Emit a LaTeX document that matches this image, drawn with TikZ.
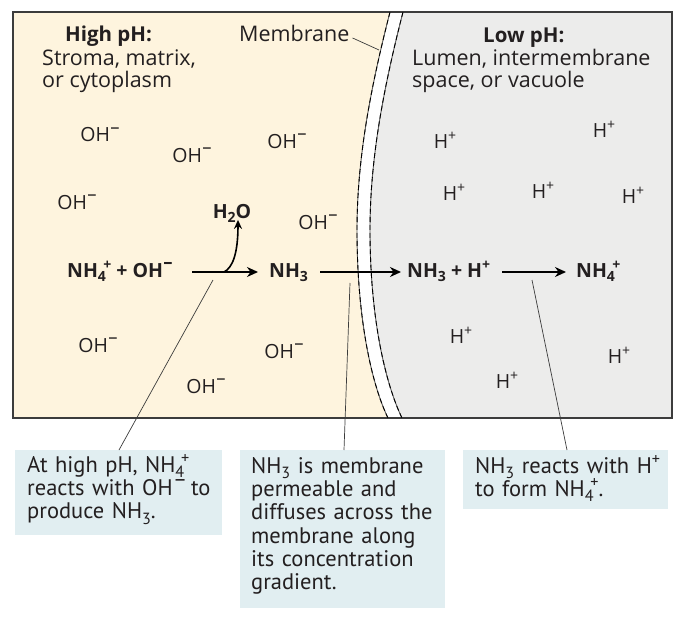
\documentclass[tikz,border=0pt]{standalone}
\usepackage{fontspec}
\usepackage{graphicx}
\setmainfont{PT Sans}
\newfontfamily\osans{Open Sans}
\usetikzlibrary{arrows.meta,calc}
\definecolor{beige}{RGB}{254,244,222}
\definecolor{lgray}{RGB}{236,236,235}
\definecolor{callbg}{RGB}{225,238,241}
\definecolor{ink}{RGB}{35,31,32}
\definecolor{framec}{RGB}{60,60,60}
\newcommand{\chsub}[1]{\raisebox{-0.24em}{\scalebox{0.72}{#1}}}
\newcommand{\chplus}{\raisebox{0.38em}{\scalebox{0.72}{+}}}
\newcommand{\chminus}{\kern0.02em\raisebox{0.42em}{\scalebox{0.95}{–}}}
\newcommand{\chfour}{\chsub{4}\kern-0.14em\chplus}
\begin{document}
\begin{tikzpicture}[x=1pt,y=-1pt,
  every node/.style={inner sep=0pt,text=ink},
  toplab/.style={font=\osans\fontsize{21.5}{23}\selectfont,anchor=base west},
  topbold/.style={font=\osans\fontsize{20.5}{23}\selectfont\bfseries,anchor=base west},
  ion/.style={font=\osans\fontsize{19.5}{20}\selectfont,anchor=base},
  rx/.style={font=\osans\fontsize{19.5}{20}\selectfont\bfseries,anchor=base west},
  callout/.style={fill=callbg,anchor=north west,align=left,inner xsep=12pt,inner ysep=0pt,
     font=\fontsize{22.5}{23.3}\selectfont},
  arr/.style={draw=black,line width=2pt,-{Stealth[length=11pt,width=10pt]}},
  lead/.style={draw=framec,line width=0.7pt},
  memline/.style={draw=black!65,line width=0.9pt},
  memdash/.style={draw=black,line width=0.9pt,dash pattern=on 5pt off 3pt}]
\useasboundingbox (0,0) rectangle (686,618);
% regions
\fill[beige] (13,12) -- (390,12) .. controls (370,90) and (357,160) .. (357,230)
   .. controls (357,320) and (372,385) .. (388,418) -- (13,418) -- cycle;
\fill[lgray] (672,12) -- (672,418) -- (402,418) .. controls (386,385) and (370,320) .. (370,230)
   .. controls (370,160) and (383,90) .. (403,12) -- cycle;
\draw[framec,line width=1.3pt] (13,12) rectangle (672,418);
% membrane
\foreach \s in {memline,memdash}{
\draw[\s] (390,12) .. controls (370,90) and (357,160) .. (357,230)
   .. controls (357,320) and (372,385) .. (388,418);
\draw[\s] (403,12) .. controls (383,90) and (370,160) .. (370,230)
   .. controls (370,320) and (386,385) .. (402,418);
}
% top labels
\node[topbold] (hiph) at (65,42) {High pH:};
\node[toplab] (hi2) at (42,66) {Stroma, matrix,};
\node[toplab] (hi3) at (42,88) {or cytoplasm};
\node[toplab] (memb) at (239,42) {Membrane};
\node[topbold] (loph) at (483,43) {Low pH:};
\node[toplab] (lo2) at (412,66) {Lumen, intermembrane};
\node[toplab] (lo3) at (412,88) {space, or vacuole};
\coordinate (membtip) at (379,50);
\draw[lead] ($(memb.base east)+(3,-4)$) -- (membtip);
% ions left
\node[ion] (oh1) at (100,142) {OH\chminus};
\node[ion] (oh2) at (192,162) {OH\chminus};
\node[ion] (oh3) at (287,148) {OH\chminus};
\node[ion] (oh4) at (77,209) {OH\chminus};
\node[ion] (oh5) at (318,229) {OH\chminus};
\node[ion] (oh6) at (98,352) {OH\chminus};
\node[ion] (oh7) at (284,358) {OH\chminus};
\node[ion] (oh8) at (206,393) {OH\chminus};
% ions right
\node[ion] (h1) at (445,148) {H\chplus};
\node[ion] (h2) at (604,137) {H\chplus};
\node[ion] (h3) at (454,200) {H\chplus};
\node[ion] (h4) at (543,198) {H\chplus};
\node[ion] (h5) at (633,203) {H\chplus};
\node[ion] (h6) at (461,343) {H\chplus};
\node[ion] (h7) at (619,363) {H\chplus};
\node[ion] (h8) at (507,388) {H\chplus};
% reaction row
\node[rx] (r1) at (67,277) {NH\chfour\ + OH\chminus};
\node[rx] (nh3a) at (269,277) {NH\chsub{3}};
\node[rx] (r2) at (407,277) {NH\chsub{3} + H\chplus};
\node[rx] (nh4) at (576,277) {NH\chfour};
\node[rx,anchor=base] (h2o) at (232,218) {H\chsub{2}O};
\coordinate (a1s) at (192,272);
\coordinate (a1e) at (258,272);
\coordinate (a2s) at (320,272);
\coordinate (a2e) at (401,272);
\coordinate (a3s) at (502,272);
\coordinate (a3e) at (566,272);
\draw[arr] (a1s) -- (a1e);
\draw[arr] (a2s) -- (a2e);
\draw[arr,line width=1.6pt] (a3s) -- (a3e);
\draw[arr,line width=1.6pt,-{Stealth[length=9pt,width=8pt]}] (224,272) .. controls (232,268) and (238,255) .. ($(h2o.south)+(6,-3)$);
% callouts
\node[callout,text width=183pt,text height=22pt,text depth=63pt] (c1) at (15,450)
  {\mbox{At high pH, NH\chfour}\\\mbox{reacts with OH\chminus\,to}\\\mbox{produce NH\chsub{3}.}};
\node[callout,text width=183pt,inner xsep=11pt,text height=23pt,text depth=135pt] (c2) at (240,450)
  {\mbox{NH\chsub{3} is membrane}\\\mbox{permeable and}\\\mbox{diffuses across the}\\\mbox{membrane along}\\\mbox{its concentration}\\\mbox{gradient.}};
\node[callout,text width=181pt,text height=23pt,text depth=36pt] (c3) at (463,450)
  {\mbox{NH\chsub{3} reacts with H\chplus}\\\mbox{to form NH\chfour.}};
% leaders
\coordinate (l1) at (213,280);
\coordinate (l2) at (350,283);
\coordinate (l3) at (532,280);
\draw[lead] (l1) -- ($(c1.north west)+(104,0)$);
\draw[lead] (l2) -- ($(c2.north west)+(104,0)$);
\draw[lead] (l3) -- ($(c3.north west)+(104,0)$);
\end{tikzpicture}
\end{document}
